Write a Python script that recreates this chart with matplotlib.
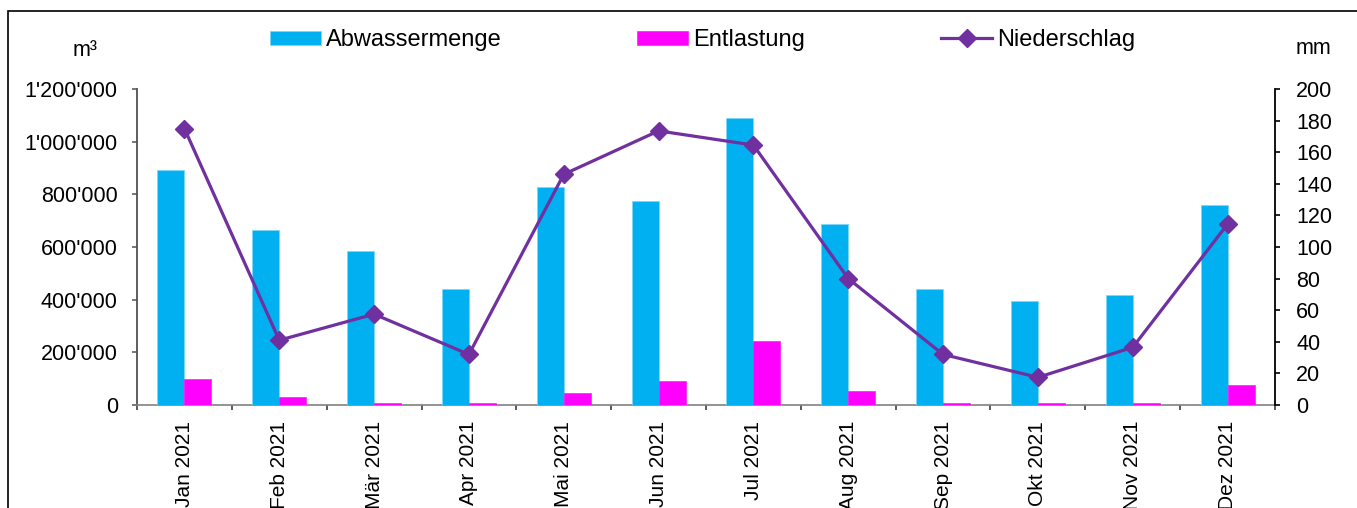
import matplotlib
matplotlib.use("Agg")
import matplotlib.pyplot as plt
from matplotlib.patches import Rectangle
from matplotlib.ticker import FuncFormatter, FixedLocator
import numpy as np

plt.rcParams['font.family'] = ['Liberation Sans', 'DejaVu Sans']

months = ["Jan 2021", "Feb 2021", "Mär 2021", "Apr 2021", "Mai 2021", "Jun 2021",
          "Jul 2021", "Aug 2021", "Sep 2021", "Okt 2021", "Nov 2021", "Dez 2021"]
abwassermenge = [893000, 666000, 583000, 440000, 826000, 773000,
                 1091000, 689000, 440000, 395000, 417000, 758000]
entlastung = [99000, 30000, 7000, 7000, 46000, 91000,
              243000, 53000, 7000, 7000, 7000, 76000]
niederschlag = [175, 41, 57.5, 32, 146, 173.5, 164.5, 80, 32, 17.5, 36.5, 114.5]

W, H = 1357, 508
fig = plt.figure(figsize=(W / 100, H / 100), dpi=100)
ax = fig.add_axes([137 / W, (H - 405) / H, (1275 - 137) / W, (405 - 89) / H])
ax2 = ax.twinx()

x = np.arange(len(months))
bw = 0.285
cyan = "#00B0F0"
magenta = "#FF00FF"
purple = "#7030A0"

ax.bar(x - bw / 2, abwassermenge, width=bw, color=cyan, edgecolor="#7FD7F7",
       linewidth=0.6, label="Abwassermenge", zorder=3)
ax.bar(x + bw / 2, entlastung, width=bw, color=magenta, edgecolor=magenta,
       linewidth=0.4, label="Entlastung", zorder=3)
ax2.plot(x, niederschlag, color=purple, lw=2.3, marker="D", markersize=9,
         label="Niederschlag", zorder=4)

ax.set_xlim(-0.5, len(months) - 0.5)
ax.set_ylim(0, 1200000)
ax2.set_ylim(0, 200)

fs = 15.5
ax.set_yticks(np.arange(0, 1200001, 200000))
ax.yaxis.set_major_formatter(FuncFormatter(lambda v, p: f"{int(v):,}".replace(",", "'")))
ax2.set_yticks(np.arange(0, 201, 20))

# tick marks between months, labels centred under each month
ax.xaxis.set_major_locator(FixedLocator(np.arange(-0.5, len(months), 1.0)))
ax.xaxis.set_major_formatter(FuncFormatter(lambda v, p: ""))
ax.xaxis.set_minor_locator(FixedLocator(x))
ax.set_xticklabels(months, minor=True, rotation=90, fontsize=15, va="top")
ax.tick_params(axis="x", which="major", direction="out", length=3.8, width=1.2, color="#404040")
ax.tick_params(axis="x", which="minor", length=0, pad=11.5)

ax.tick_params(axis="y", direction="out", length=3.8, width=1.2, color="#606060",
               labelsize=fs, pad=10)
ax2.tick_params(axis="y", direction="out", length=3.8, width=1.2, color="black",
                labelsize=fs, pad=11.5)

for a in (ax, ax2):
    a.spines["top"].set_visible(False)
ax.spines["left"].set_color("#505050")
ax.spines["left"].set_linewidth(1.3)
ax.spines["bottom"].set_color("#808080")
ax.spines["bottom"].set_linewidth(1.2)
ax.spines["right"].set_visible(False)
ax2.spines["left"].set_visible(False)
ax2.spines["bottom"].set_visible(False)
ax2.spines["right"].set_color("black")
ax2.spines["right"].set_linewidth(1.3)

fig.text(85 / W, 1 - 50 / H, "m³", fontsize=fs, ha="center", va="center")
fig.text(1313 / W, 1 - 49 / H, "mm", fontsize=fs, ha="center", va="center")

h1, l1 = ax.get_legend_handles_labels()
h2, l2 = ax2.get_legend_handles_labels()
fig.legend(h1 + h2, l1 + l2, ncol=3, loc="center left",
           bbox_to_anchor=(270 / W, 1 - 40 / H), frameon=False, fontsize=17,
           handlelength=2.16, handleheight=0.55, handletextpad=0.21,
           columnspacing=5.75, borderpad=0, borderaxespad=0)

fig.patches.append(Rectangle((8 / W, -0.1), 1.2, 1.1 - 11 / H, transform=fig.transFigure,
                             fill=False, edgecolor="black", linewidth=1.2))

fig.savefig("out.png", dpi=100)
